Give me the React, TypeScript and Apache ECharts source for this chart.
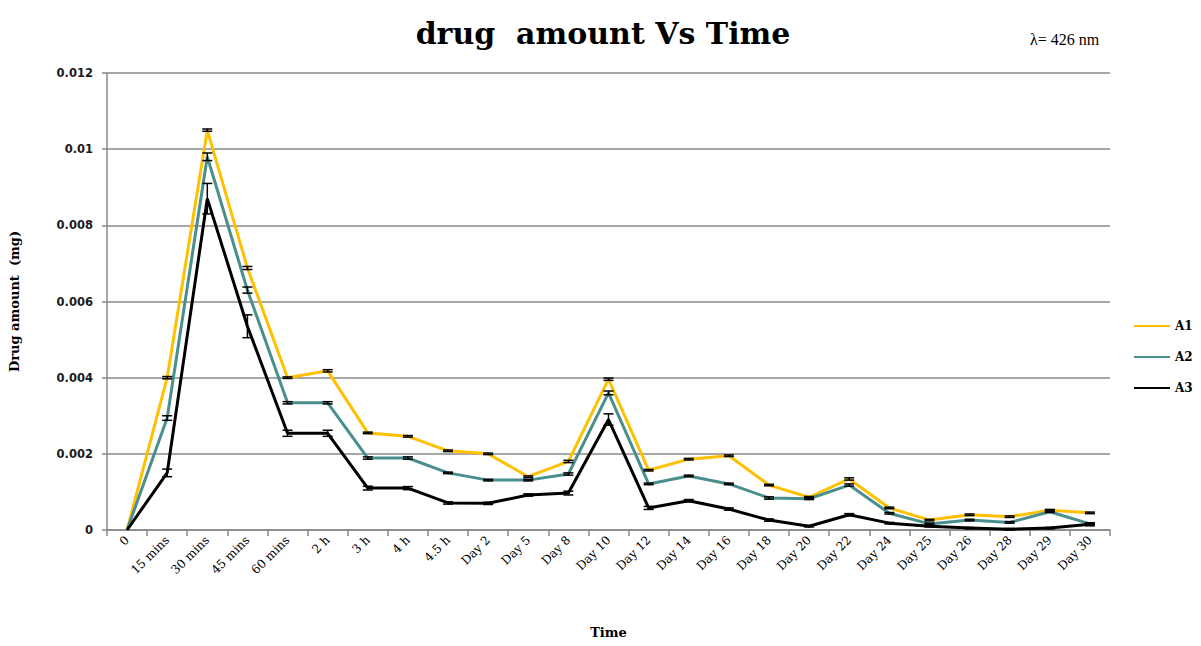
import React, { useEffect, useRef } from "react";
import * as echarts from "echarts";

const categories = ["0", "15 mins", "30 mins", "45 mins", "60 mins", "2 h", "3 h", "4 h", "4.5 h", "Day 2", "Day 5", "Day 8", "Day 10", "Day 12", "Day 14", "Day 16", "Day 18", "Day 20", "Day 22", "Day 24", "Day 25", "Day 26", "Day 28", "Day 29", "Day 30"];

const a1 = [0, 0.004, 0.0105, 0.00688, 0.004, 0.00418, 0.00255, 0.00246, 0.00208, 0.002, 0.0014, 0.0018, 0.00396, 0.00157, 0.00186, 0.00195, 0.00118, 0.00086, 0.00134, 0.00058, 0.00026, 0.0004, 0.00035, 0.00052, 0.00045];
const a2 = [0, 0.00294, 0.0098, 0.0063, 0.00334, 0.00334, 0.00189, 0.00189, 0.0015, 0.00131, 0.00131, 0.00147, 0.0036, 0.00121, 0.00142, 0.00121, 0.00084, 0.00082, 0.00118, 0.00044, 0.00016, 0.00026, 0.0002, 0.00048, 0.00016];
const a3 = [0, 0.0015, 0.0087, 0.00535, 0.00254, 0.00254, 0.0011, 0.0011, 0.00071, 0.0007, 0.00092, 0.00097, 0.0029, 0.00058, 0.00077, 0.00055, 0.00026, 0.0001, 0.0004, 0.00018, 0.0001, 0.00005, 0.00002, 0.00005, 0.00015];

const a1Err = [0, 0.00003, 0.00003, 0.00004, 0.00002, 0.00003, 0.00002, 0.00002, 0.00002, 0.00002, 0.00002, 0.00003, 0.00003, 0.00002, 0.00002, 0.00002, 0.00002, 0.00002, 0.00003, 0.00002, 0.00002, 0.00002, 0.00002, 0.00002, 0.00002];
const a2Err = [0, 0.00006, 0.0001, 0.00008, 0.00003, 0.00003, 0.00003, 0.00003, 0.00002, 0.00002, 0.00002, 0.00003, 0.00005, 0.00002, 0.00002, 0.00002, 0.00003, 0.00002, 0.00003, 0.00002, 0.00002, 0.00002, 0.00002, 0.00002, 0.00002];
const a3Err = [0, 0.0001, 0.0004, 0.0003, 0.00008, 0.00008, 0.00005, 0.00004, 0.00003, 0.00003, 0.00003, 0.00005, 0.00015, 0.00004, 0.00003, 0.00003, 0.00003, 0.00002, 0.00003, 0.00002, 0.00002, 0.00002, 0.00002, 0.00002, 0.00004];

const yTicks = [0, 0.002, 0.004, 0.006, 0.008, 0.01, 0.012];

const COLORS = { A1: "#FFC000", A2: "#4A8E8E", A3: "#000000" };

function errSeries(name: string, vals: number[], errs: number[]) {
  return {
    type: "custom",
    name: name + "-err",
    z: 5,
    renderItem: (params: any, api: any) => {
      const x = api.value(0);
      const y = api.value(1);
      const e = api.value(2);
      if (e <= 0) return null;
      const hi = api.coord([x, y + e]);
      const lo = api.coord([x, y - e]);
      const w = 5;
      const style = { stroke: "#000", lineWidth: 1.5 };
      return {
        type: "group",
        children: [
          { type: "line", shape: { x1: hi[0], y1: hi[1], x2: lo[0], y2: lo[1] }, style },
          { type: "line", shape: { x1: hi[0] - w, y1: hi[1], x2: hi[0] + w, y2: hi[1] }, style },
          { type: "line", shape: { x1: lo[0] - w, y1: lo[1], x2: lo[0] + w, y2: lo[1] }, style },
        ],
      };
    },
    data: vals.map((v, i) => [i, v, errs[i]]),
    silent: true,
  };
}

function lineSeries(name: string, vals: number[], color: string) {
  return {
    type: "line",
    name,
    data: vals,
    symbol: "none",
    lineStyle: { color, width: 3 },
    itemStyle: { color },
    z: 3,
  };
}

export default function App() {
  const ref = useRef<HTMLDivElement>(null);
  useEffect(() => {
    if (!ref.current) return;
    const chart = echarts.init(ref.current, null, { renderer: "svg" });
    chart.setOption({
      animation: false,
      backgroundColor: "#fff",
      title: {
        text: "drug  amount Vs Time",
        left: 598,
        textAlign: "center",
        top: 13,
        textStyle: { fontFamily: "DejaVu Serif", fontWeight: "bold", fontSize: 30, color: "#000" },
      },
      graphic: [
        {
          type: "text",
          left: 1030,
          top: 31,
          style: { text: "λ= 426 nm", font: "16px 'Liberation Serif'", fill: "#000" },
        },
      ],
      legend: {
        data: ["A1", "A2", "A3"],
        orient: "vertical",
        left: 1134,
        top: 320,
        padding: 0,
        itemWidth: 36,
        itemHeight: 2,
        itemGap: 19,
        icon: "rect",
        textStyle: { fontFamily: "DejaVu Serif", fontWeight: "bold", fontSize: 12, color: "#000", width: 24, overflow: "none" },
      },
      grid: { left: 104, right: 91, top: 73, bottom: 116, containLabel: false },
      xAxis: {
        type: "category",
        data: categories,
        boundaryGap: true,
        name: "Time",
        nameLocation: "middle",
        nameGap: 96,
        nameTextStyle: { fontFamily: "DejaVu Serif", fontWeight: "bold", fontSize: 13, color: "#000" },
        axisLine: { lineStyle: { color: "#888", width: 1.5 } },
        axisTick: { show: true, length: 6, alignWithLabel: false, lineStyle: { color: "#888", width: 1.5 } },
        axisLabel: {
          rotate: 45,
          interval: 0,
          margin: 8,
          fontFamily: "DejaVu Serif",
          fontSize: 12,
          color: "#000",
        },
      },
      yAxis: {
        type: "value",
        min: 0,
        max: 0.012,
        interval: 0.002,
        name: "Drug amount  (mg)",
        nameLocation: "middle",
        nameGap: 86,
        nameTextStyle: { fontFamily: "DejaVu Serif", fontWeight: "bold", fontSize: 13, color: "#000" },
        axisLine: { show: true, lineStyle: { color: "#888", width: 1.5 } },
        axisTick: { show: true, length: 5, lineStyle: { color: "#888", width: 1.5 } },
        splitLine: { show: true, lineStyle: { color: "#8a8a8a", width: 1.5 } },
        axisLabel: {
          margin: 14,
          fontFamily: "DejaVu Sans",
          fontWeight: "bold",
          fontSize: 11.5,
          color: "#1a1a1a",
          formatter: (v: number) => {
            const t = yTicks.find((x) => Math.abs(x - v) < 1e-9);
            return String(parseFloat((t ?? v).toPrecision(6)));
          },
        },
      },
      series: [
        lineSeries("A1", a1, COLORS.A1),
        lineSeries("A2", a2, COLORS.A2),
        lineSeries("A3", a3, COLORS.A3),
        errSeries("A1", a1, a1Err),
        errSeries("A2", a2, a2Err),
        errSeries("A3", a3, a3Err),
      ],
    });
    return () => chart.dispose();
  }, []);
  return <div ref={ref} style={{ width: 1201, height: 646, margin: -8 }} />;
}
